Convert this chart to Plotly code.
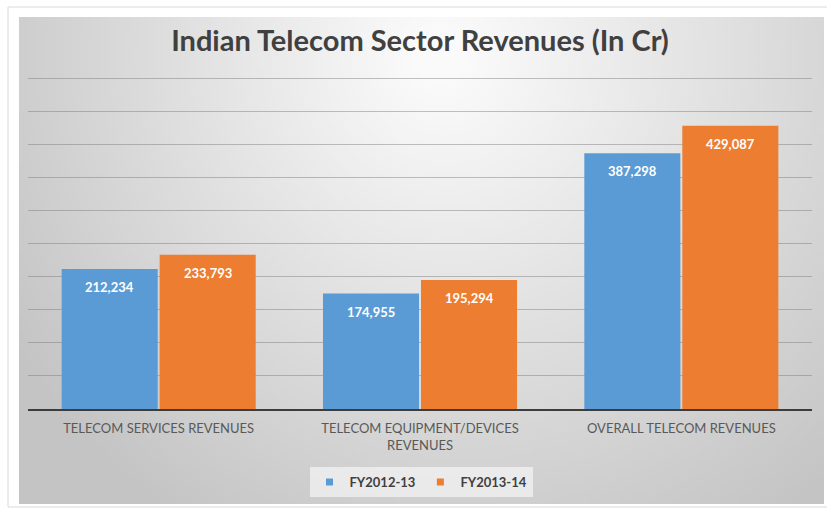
import base64
import struct
import zlib

import numpy as np
import plotly.graph_objects as go

# ---- data ----
categories = [
    "TELECOM SERVICES REVENUES",
    "TELECOM EQUIPMENT/DEVICES<br>REVENUES",
    "OVERALL TELECOM REVENUES",
]
series_names = ["FY2012-13", "FY2013-14"]
fy2012_13 = [212234, 174955, 387298]
fy2013_14 = [233793, 195294, 429087]
y_ticks = [0, 50000, 100000, 150000, 200000, 250000, 300000, 350000, 400000, 450000, 500000]
y_max = 515000

colors = ["#5b9bd5", "#ed7d31"]

# ---- geometry (pixels) ----
FIG_W, FIG_H = 827, 514
L, R, T, B = 28, 812, 69, 409          # plot area edges
PW, PH = R - L, B - T


def px_x(p):
    return (p - L) / PW


def px_y(p):
    return (B - p) / PH


def gray_png(arr):
    """Encode a 2-D uint8 array as a grayscale PNG data URI."""
    h, w = arr.shape
    raw = b"".join(b"\x00" + arr[r].tobytes() for r in range(h))

    def chunk(tag, data):
        out = struct.pack(">I", len(data)) + tag + data
        return out + struct.pack(">I", zlib.crc32(tag + data) & 0xFFFFFFFF)

    png = (b"\x89PNG\r\n\x1a\n"
           + chunk(b"IHDR", struct.pack(">IIBBBBB", w, h, 8, 0, 0, 0, 0))
           + chunk(b"IDAT", zlib.compress(raw, 9))
           + chunk(b"IEND", b""))
    return "data:image/png;base64," + base64.b64encode(png).decode()


# soft radial backdrop: light near the title, greyer toward the edges
gw, gh = 200, 120
u = np.linspace(0, 1, gw)[None, :]
v = np.linspace(0, 1, gh)[:, None]
d = np.sqrt(((u - 0.52) / 0.62) ** 2 + ((v - 0.08) / 1.05) ** 2)
shade = 250 - 52 * d + 6 * u
backdrop = np.clip(shade, 196, 250).astype(np.uint8)
bg_src = gray_png(backdrop)

fig = go.Figure()

for name, vals, col in zip(series_names, [fy2012_13, fy2013_14], colors):
    fig.add_trace(go.Bar(
        x=categories, y=vals, name=name,
        marker=dict(color=col, line=dict(width=0)),
        showlegend=False,
        hoverinfo="skip",
    ))
    # small square swatch for the legend
    fig.add_trace(go.Scatter(
        x=[None], y=[None], mode="markers", name=name,
        marker=dict(symbol="square", size=7, color=col),
    ))

# value labels just inside the top of each bar
annotations = []
offsets = [-0.1875, 0.1875]
for k, vals in enumerate([fy2012_13, fy2013_14]):
    for i, val in enumerate(vals):
        annotations.append(dict(
            x=i + offsets[k], y=val, xref="x", yref="y",
            text=f"{val:,}", showarrow=False,
            yanchor="middle", yshift=-18,
            font=dict(family="Lato", size=13, color="white", weight="bold"),
        ))

fig.update_layout(
    width=FIG_W, height=FIG_H,
    margin=dict(l=L, r=FIG_W - R, t=T, b=FIG_H - B, pad=0),
    paper_bgcolor="white",
    plot_bgcolor="rgba(0,0,0,0)",
    barmode="group",
    bargap=0.25,
    bargroupgap=0.02,
    title=dict(
        text="Indian Telecom Sector Revenues (In Cr)",
        x=420 / FIG_W, xanchor="center",
        y=1 - 41 / FIG_H, yanchor="middle", yref="container",
        font=dict(family="Lato", size=29, color="#404040", weight="bold"),
    ),
    xaxis=dict(
        showgrid=False, showline=True, linecolor="#3c3c3c", linewidth=2,
        ticks="", ticklabelstandoff=6,
        tickfont=dict(family="Lato", size=13, color="#595959"),
        fixedrange=True,
    ),
    yaxis=dict(
        range=[0, y_max], tickvals=y_ticks, showticklabels=False,
        showgrid=True, gridcolor="rgba(120,120,120,0.45)", gridwidth=1,
        zeroline=False, fixedrange=True,
    ),
    legend=dict(
        orientation="h",
        x=px_x(421), xanchor="center",
        y=px_y(482), yanchor="middle",
        bgcolor="rgba(245,245,245,0.7)",
        font=dict(family="Lato", size=13, color="#404040", weight="bold"),
        itemwidth=30,
    ),
    annotations=annotations,
    images=[dict(
        source=bg_src, xref="paper", yref="paper",
        x=px_x(19), y=px_y(17),
        sizex=(824 - 19) / PW, sizey=(504 - 17) / PH,
        xanchor="left", yanchor="top", sizing="stretch", layer="below",
    )],
    shapes=[dict(
        type="rect", xref="paper", yref="paper",
        x0=px_x(8), x1=px_x(840), y0=px_y(507), y1=px_y(7),
        line=dict(color="#dadada", width=1), fillcolor="rgba(0,0,0,0)",
        layer="below",
    )],
)

fig.write_html("out.html")
